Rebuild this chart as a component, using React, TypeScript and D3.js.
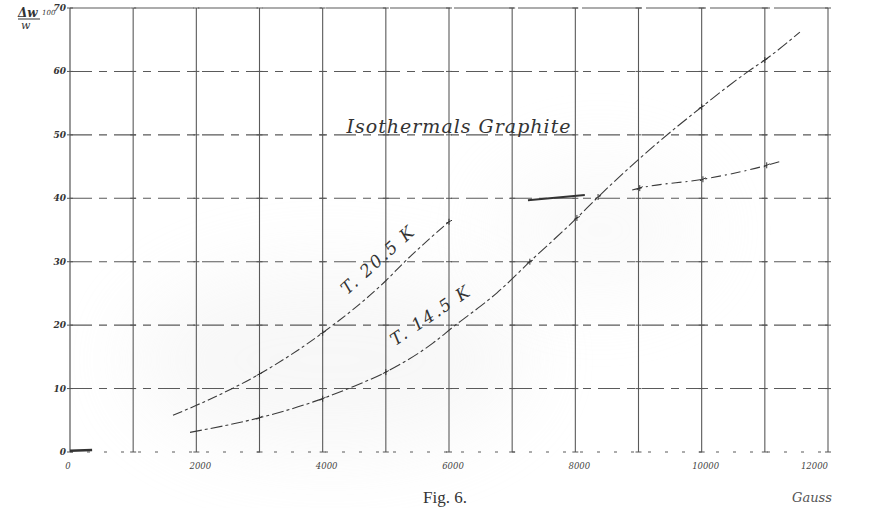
import React from "react";
import * as d3 from "d3";

const W = 872;
const H = 508;

const gaussGrid = d3.range(0, 12001, 1000);
const gaussLabels = [0, 2000, 4000, 6000, 8000, 10000, 12000];
const gaussLabelText = ["0", "2000", "4000", "6000", "8000", "10000", "12000"];
const yTicks = [0, 10, 20, 30, 40, 50, 60, 70];
const yLabelText = ["0", "10", "20", "30", "40", "50", "60", "70"];

// T = 20.5 K
const curveA1: [number, number][] = [
  [1630, 5.8], [2010, 7.4], [3000, 12.3], [4000, 18.8], [5000, 27.0], [5300, 30.0], [6000, 36.3],
];
const curveA2: [number, number][] = [[7250, 39.7], [8150, 40.5]];
const curveA3: [number, number][] = [
  [8900, 41.3], [9020, 41.6], [10020, 43.0], [11030, 45.2], [11270, 45.9],
];
// T = 14.5 K
const curveB: [number, number][] = [
  [1900, 3.1], [3000, 5.4], [3850, 7.9], [4430, 10.1], [5000, 12.6], [5750, 17.2],
  [6100, 20.0], [6500, 23.0], [6760, 25.1], [7280, 30.0], [8025, 36.9], [8360, 40.2],
  [9020, 46.3], [10000, 54.4], [10765, 60.2], [11000, 61.8], [11555, 66.2],
];
const markersA = [[3000, 12.3], [4000, 18.8], [6000, 36.3], [9020, 41.6], [10020, 43.0], [11030, 45.2]];
const markersB = [[3000, 5.4], [4000, 8.4], [5000, 12.6], [7280, 30.0], [8025, 36.9], [8360, 40.2], [10000, 54.4], [11000, 61.8]];

export default function App() {
  const x = d3.scaleLinear().domain([0, 12000]).range([70, 828]);
  const y = d3.scaleLinear().domain([0, 70]).range([452, 8]);
  const line = d3.line<[number, number]>().x((d) => x(d[0])).y((d) => y(d[1])).curve(d3.curveMonotoneX);
  const ink = "#3a3a3a";
  const serif = "'DejaVu Serif', 'Liberation Serif', serif";

  return (
    <svg width={W} height={H} style={{ position: "absolute", left: 0, top: 0, background: "#fff" }}>
      <defs>
        <filter id="blur" x="-50%" y="-50%" width="200%" height="200%">
          <feGaussianBlur stdDeviation="40" />
        </filter>
      </defs>
      <rect width={W} height={H} fill="#fff" />
      <ellipse cx={330} cy={360} rx={200} ry={95} fill="#e6e6e6" opacity={0.3} filter="url(#blur)" />
      <ellipse cx={600} cy={230} rx={110} ry={70} fill="#ececec" opacity={0.25} filter="url(#blur)" />

      {/* vertical grid */}
      {gaussGrid.map((g) => (
        <line key={"v" + g} x1={x(g)} x2={x(g)} y1={y(70)} y2={y(0)} stroke={g === 0 ? "#444" : "#5a5a5a"} strokeWidth={1.1} />
      ))}
      {/* horizontal grid */}
      {yTicks.map((t) => (
        <line
          key={"h" + t}
          x1={x(0)}
          x2={x(12000)}
          y1={y(t)}
          y2={y(t)}
          stroke="#5a5a5a"
          strokeWidth={1.1}
          strokeDasharray={t === 70 ? "60,4" : t === 0 ? "3,14" : "22,7,8,7"}
        />
      ))}
      {gaussGrid.map((g) =>
        yTicks.map((t) => (
          <line key={"c" + g + "-" + t} x1={x(g) - 3} x2={x(g) + 3} y1={y(t)} y2={y(t)} stroke="#555" strokeWidth={1} />
        ))
      )}
      <line x1={x(0)} x2={x(350)} y1={y(0.2)} y2={y(0.3)} stroke="#333" strokeWidth={2.5} />

      {/* y labels */}
      {yTicks.map((t, i) => (
        <text key={"yl" + t} x={x(0) - 4} y={y(t) + 3} fontSize={9} fontFamily={serif} fontStyle="italic" fontWeight="bold" fill="#333" textAnchor="end">
          {yLabelText[i]}
        </text>
      ))}
      {/* x labels */}
      {gaussLabels.map((g, i) => (
        <text
          key={"xl" + g}
          x={x(g) + (g === 12000 ? 0 : g === 0 ? -2 : 4)}
          y={469}
          fontSize={8.5}
          fontFamily={serif}
          fontStyle="italic"
          fill="#444"
          textAnchor={g === 12000 ? "end" : "middle"}
        >
          {gaussLabelText[i]}
        </text>
      ))}

      {/* y-axis title */}
      <text x={18} y={17} fontSize={12} fontFamily={serif} fontStyle="italic" fontWeight="bold" fill="#333">Δw</text>
      <line x1={18} x2={40} y1={19} y2={19} stroke="#333" strokeWidth={1} />
      <text x={21} y={29} fontSize={11} fontFamily={serif} fontStyle="italic" fill="#333">w</text>
      <text x={42} y={15} fontSize={7} fontFamily={serif} fontStyle="italic" fill="#333">100</text>

      {/* curves */}
      <path d={line(curveA1) || ""} fill="none" stroke={ink} strokeWidth={1.1} strokeDasharray="10,3,3,3" />
      <path d={line(curveA2) || ""} fill="none" stroke="#333" strokeWidth={2} />
      <path d={line(curveA3) || ""} fill="none" stroke={ink} strokeWidth={1.1} strokeDasharray="10,4,2,4" />
      <path d={line(curveB) || ""} fill="none" stroke={ink} strokeWidth={1.1} strokeDasharray="12,3,3,3" />
      {[...markersA, ...markersB].map((m, i) => (
        <g key={"m" + i} stroke="#333" strokeWidth={1}>
          <line x1={x(m[0]) - 3} x2={x(m[0]) + 3} y1={y(m[1]) + 1.5} y2={y(m[1]) - 1.5} />
          <line x1={x(m[0])} x2={x(m[0])} y1={y(m[1]) - 3} y2={y(m[1]) + 3} />
        </g>
      ))}

      {/* labels */}
      <text x={459} y={133} fontSize={19} letterSpacing={1} fontFamily={serif} fontStyle="italic" fill="#333" textAnchor="middle">
        Isothermals Graphite
      </text>
      <text
        x={0}
        y={0}
        transform="translate(382,264) rotate(-42)"
        fontSize={17}
        letterSpacing={2}
        fontFamily={serif}
        fontStyle="italic"
        fill="#333"
        textAnchor="middle"
      >
        T. 20.5 K
      </text>
      <text
        x={0}
        y={0}
        transform="translate(434,320) rotate(-34)"
        fontSize={17}
        letterSpacing={2}
        fontFamily={serif}
        fontStyle="italic"
        fill="#333"
        textAnchor="middle"
      >
        T. 14.5 K
      </text>

      <text x={445} y={503} fontSize={17} fontFamily="'Liberation Serif', serif" fill="#333" textAnchor="middle">
        Fig. 6.
      </text>
      <text x={812} y={502} fontSize={13} fontFamily={serif} fontStyle="italic" fill="#555" textAnchor="middle">
        Gauss
      </text>
    </svg>
  );
}
